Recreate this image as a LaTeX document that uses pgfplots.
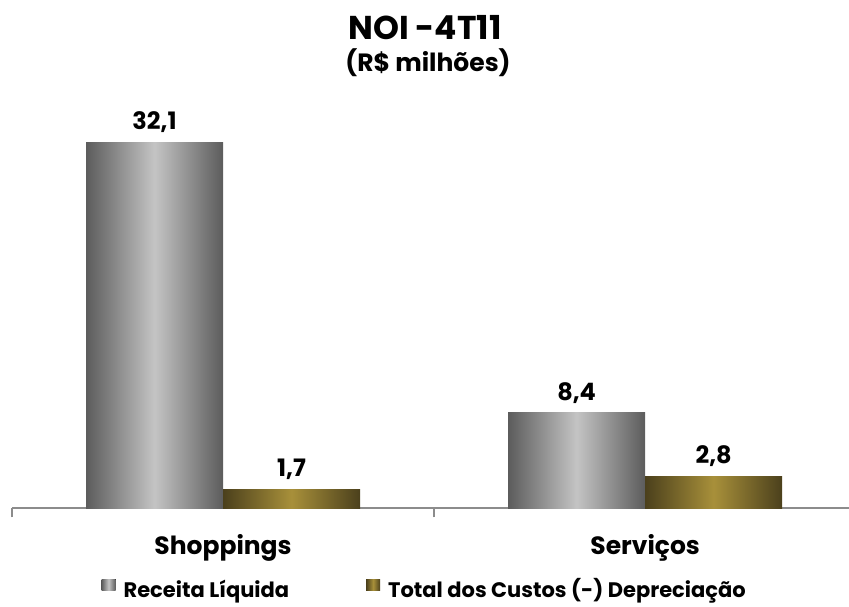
\documentclass[border=0pt]{standalone}
\usepackage{pgfplots}
\pgfplotsset{compat=1.18}
\usepackage{fontspec}
\setmainfont{Poppins}

\definecolor{axgray}{HTML}{8C8C8C}
\definecolor{grayedge}{HTML}{5C5C5C}
\definecolor{graymid}{HTML}{C4C4C4}
\definecolor{goldedge}{HTML}{4B401C}
\definecolor{goldmid}{HTML}{A8903A}

\pgfplotsset{
  graybar/.style={draw=none, bar shift=-68.5pt,
    left color=grayedge, right color=grayedge, middle color=graymid},
  goldbar/.style={draw=none, bar shift=68.5pt,
    left color=goldedge, right color=goldedge, middle color=goldmid},
}

\begin{document}
\begin{tikzpicture}
\useasboundingbox (0,0) rectangle (849pt,607pt);
\begin{axis}[
    at={(12pt,98.5pt)}, anchor=south west,
    scale only axis,
    width=837pt, height=399pt,
    xmin=-0.5, xmax=1.483,
    ymin=0, ymax=35,
    ybar=0pt, bar width=137pt,
    axis x line*=bottom, axis y line=none,
    x axis line style={axgray, line width=2pt},
    xtick={0,1}, xticklabels={Shoppings,Serviços},
    major tick length=0pt,
    extra x ticks={-0.5,0.5}, extra x tick labels={},
    extra x tick style={major tick length=9pt, tick align=outside,
        tick style={axgray, line width=2pt}},
    xticklabel style={font=\fontsize{25}{28}\selectfont\bfseries, yshift=-22pt},
    /pgf/number format/.cd, use comma, fixed, fixed zerofill, precision=1,
        assume math mode=true,
    /pgfplots/.cd,
    nodes near coords,
    nodes near coords style={font=\fontsize{24}{28}\selectfont\bfseries, text=black, yshift=6pt},
    legend columns=-1,
    legend style={at={(0.493,-0.202)}, anchor=center, draw=none, fill=none,
        font=\fontsize{21}{24}\selectfont\bfseries,
        /tikz/every odd column/.append style={column sep=6pt},
        /tikz/every even column/.append style={column sep=75pt}},
    legend image code/.code={\fill[#1] (0pt,-1pt) rectangle (14pt,10pt);},
]
% Shoppings
\addplot[graybar] coordinates {(0,32.1)};
\addplot[goldbar] coordinates {(0,1.7)};
% Servicos
\addplot[graybar, forget plot] coordinates {(1,8.4)};
\addplot[goldbar, forget plot] coordinates {(1,2.8)};
\legend{Receita Líquida, Total dos Custos (-) Depreciação}
\end{axis}
\node[font=\fontsize{33}{37}\selectfont\bfseries] at (425pt,579pt) {NOI -4T11};
\node[font=\fontsize{25}{29}\selectfont\bfseries] at (428pt,544pt) {(R\$ milhões)};
\end{tikzpicture}
\end{document}
